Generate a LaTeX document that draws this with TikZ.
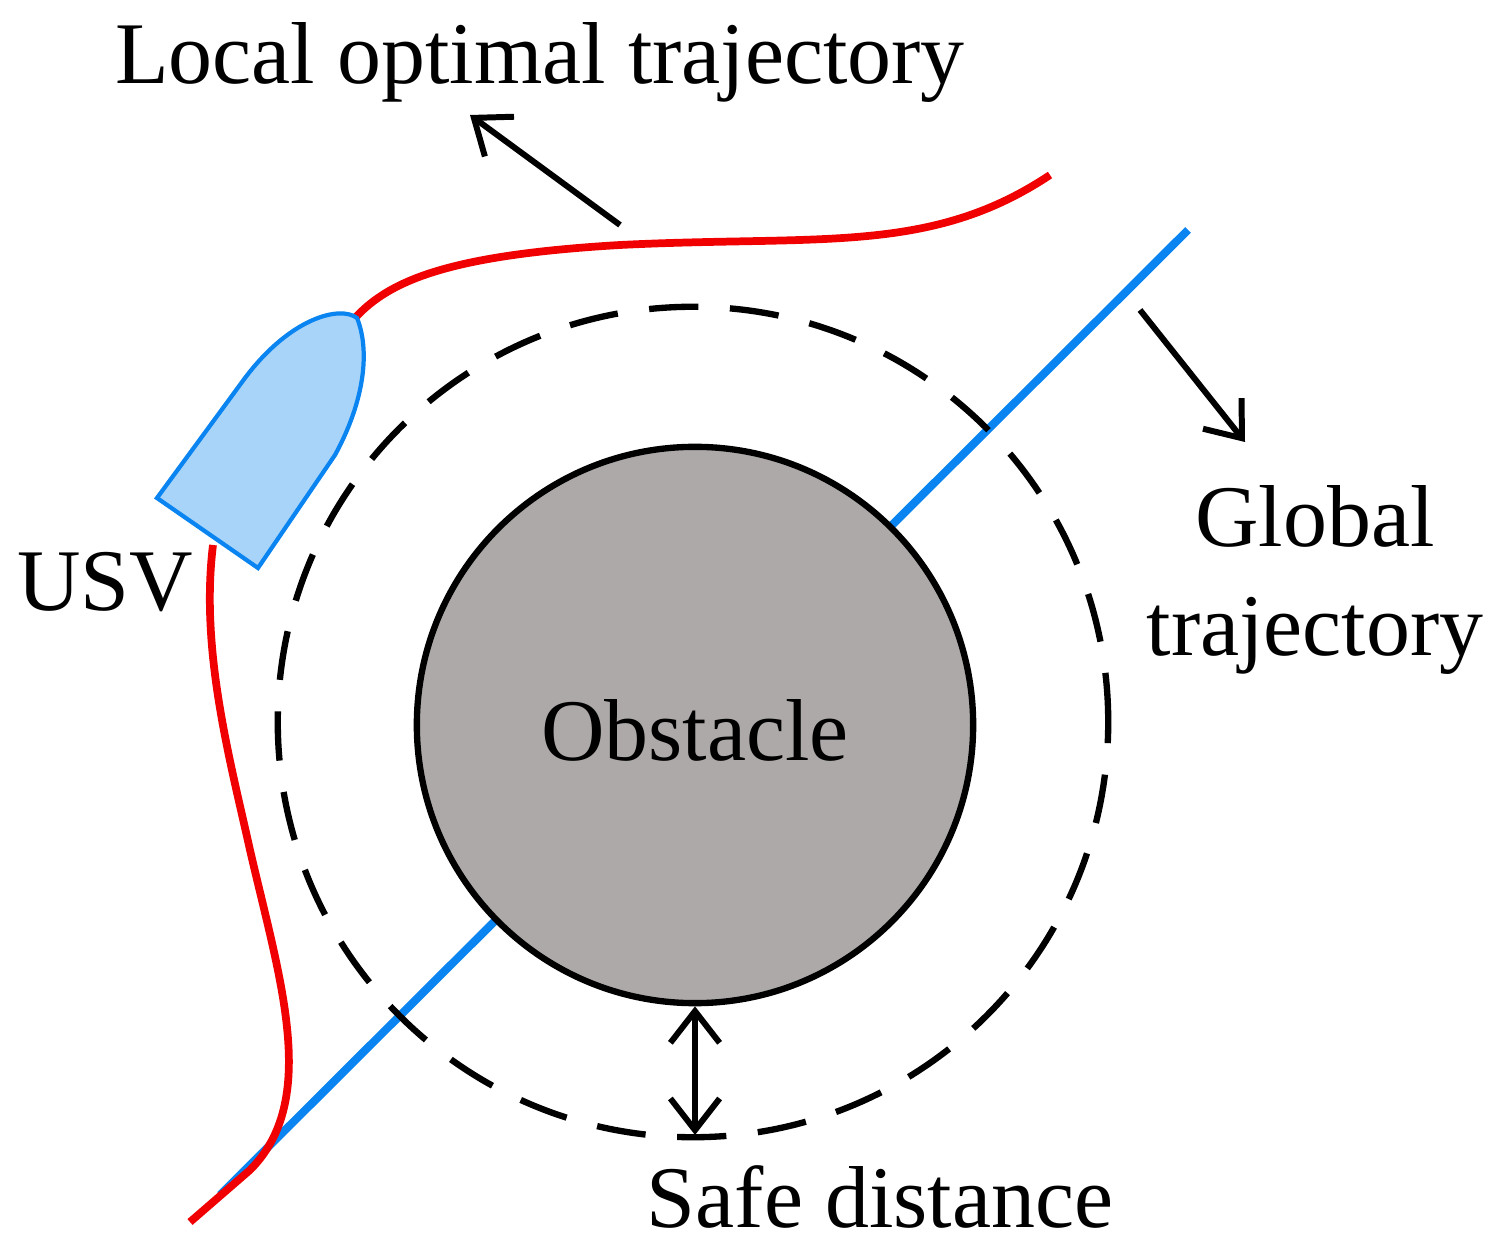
\documentclass[tikz,border=0pt]{standalone}
\usepackage{fontspec}
\setmainfont{Liberation Serif}
\usetikzlibrary{arrows.meta}
\definecolor{blu}{HTML}{0A84F0}
\definecolor{boatf}{HTML}{A8D4FA}
\definecolor{obs}{HTML}{ADA9A8}
\definecolor{red}{HTML}{F00000}
\begin{document}
\begin{tikzpicture}[x=0.01cm,y=-0.01cm,
  lbl/.style={font=\fontsize{25}{30}\selectfont,inner sep=0},
  arr/.style={line width=1.7pt,-{Straight Barb[length=9pt,width=14pt]}}]
\useasboundingbox (0,0) rectangle (1496,1252);
\coordinate (b1) at (220,1195);
\coordinate (b2) at (1188,230);
\draw[blu,line width=2.3pt] (b1) -- (b2);
\draw[red,line width=2.2pt] (1050,175) .. controls (930,255) and (820,235) .. (620,245)
  .. controls (450,255) and (390,280) .. (355,318);
\draw[red,line width=2.2pt] (213,545) .. controls (200,650) and (230,760) .. (250,850)
  .. controls (280,980) and (320,1100) .. (250,1170) -- (190,1222);
\node[circle,draw=black,line width=1.8pt,fill=obs,minimum size=5.56cm,inner sep=0] (obs) at (695,725) {};
\node[lbl] (ot) at (695,730) {Obstacle};
\node[circle,draw=black,line width=1.8pt,dash pattern=on 14pt off 9pt,minimum size=8.3cm,inner sep=0] (safe) at (693,722) {};
\draw[blu,fill=boatf,line width=1.2pt] (157,498) -- (245,378) .. controls (290,318) and (340,305) .. (357,318)
  .. controls (370,350) and (365,400) .. (335,455) -- (258,568) -- cycle;
\coordinate (a1s) at (620,225); \coordinate (a1e) at (470,115);
\draw[arr] (a1s) -- (a1e);
\coordinate (a2s) at (1140,310); \coordinate (a2e) at (1245,442);
\draw[arr] (a2s) -- (a2e);
\coordinate (sd) at (695,1135);
\draw[line width=1.7pt,{Straight Barb[length=9pt,width=14pt]}-{Straight Barb[length=9pt,width=14pt]}] (obs.south) -- (sd);
\node[lbl] (lt) at (540,62) {Local optimal trajectory};
\node[lbl,align=center] (gt) at (1315,580) {Global\\[1pt]trajectory};
\node[lbl] (usv) at (105,582) {USV};
\node[lbl] (sdl) at (880,1197) {Safe distance};
\end{tikzpicture}
\end{document}
